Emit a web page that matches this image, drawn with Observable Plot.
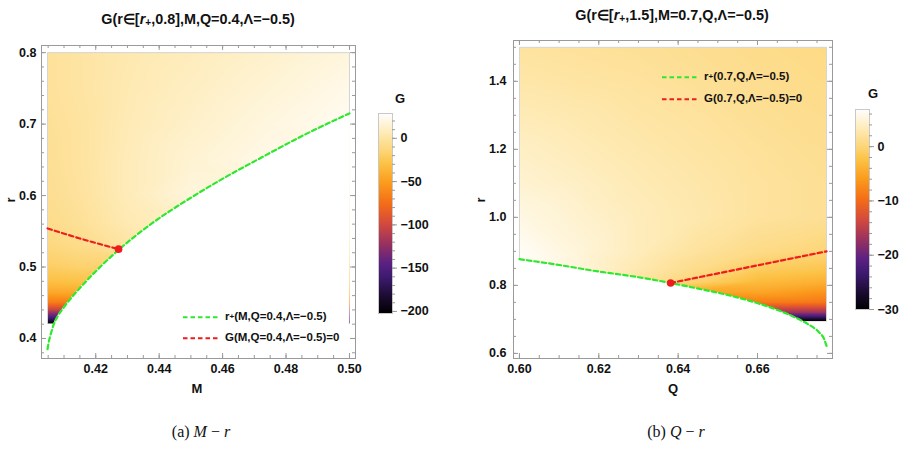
<!DOCTYPE html>
<html><head><meta charset="utf-8">
<script src="https://cdn.jsdelivr.net/npm/d3@7"></script>
<script src="https://cdn.jsdelivr.net/npm/@observablehq/plot@0.6"></script>
<style>
body{margin:0;background:#fff;}
#wrap{position:relative;width:903px;height:449px;overflow:hidden;font-family:"Liberation Sans",Arial,sans-serif;color:#111;}
.abs{position:absolute;white-space:nowrap;line-height:1;}
.c{transform:translate(-50%,-50%);}
.l{transform:translateY(-50%);}
.title{font-weight:bold;font-size:14.4px;}
.lab{font-weight:bold;font-size:13px;}
.leg{font-weight:bold;font-size:11.5px;display:flex;align-items:center;}
.leg svg{margin-right:6px;}
.cap{font-family:"Liberation Serif","DejaVu Serif",serif;font-size:16px;}
.cap i{font-style:italic;}
sub{font-size:70%;vertical-align:-0.25em;line-height:0;}
svg.plot{position:absolute;overflow:visible;}
</style></head>
<body><div id="wrap"></div>
<script>
// ---------- Panel (a): M - r ----------
const rPlusA_M = [0.4048, 0.4051, 0.4055, 0.4060, 0.4067, 0.4080, 0.4100, 0.4153, 0.4216, 0.4272, 0.4377, 0.4500, 0.4602, 0.4730, 0.4849, 0.5000];
const rPlusA_r = [0.385, 0.393, 0.401, 0.409, 0.419, 0.431, 0.444, 0.472, 0.501, 0.524, 0.561, 0.597, 0.624, 0.655, 0.683, 0.715];
const gZeroA_M = [0.4048, 0.4150, 0.4272];
const gZeroA_r = [0.554, 0.540, 0.525];
const pointA = {M: 0.4272, r: 0.525};
const gridA_M = [0.4048, 0.415, 0.43, 0.45, 0.475, 0.5];
const gridA_r = [0.421, 0.43, 0.44, 0.45, 0.465, 0.48, 0.5, 0.53, 0.56, 0.6, 0.65, 0.7, 0.75, 0.8];
const gridA_G = [
  [-202, -202, -202, -202, -202, -202],
  [-150, -150, -150, -150, -150, -150],
  [-105, -105, -105, -105, -105, -105],
  [-68, -68, -68, -68, -68, -68],
  [-44, -42, -42, -42, -42, -42],
  [-30, -28, -28, -28, -28, -28],
  [-20, -17, -15, -15, -15, -15],
  [-12, -8, 0, 0, 0, 0],
  [-8, -4, 5, 12, 12, 12],
  [-6, -2, 7, 18, 18, 18],
  [-5, -1, 7, 15, 22, 22],
  [-4, -1, 6, 12, 19, 25],
  [-3, 0, 5, 10, 16, 22],
  [-3, 0, 4, 8, 13, 18]
];
const regionA_M = [0.4048, 0.5];
const regionA_r = [0.421, 0.8];
const colorRangeA = [-202.4, 28.7];
const xTicksA = [0.42, 0.44, 0.46, 0.48, 0.50];
const yTicksA = [0.4, 0.5, 0.6, 0.7, 0.8];
const cbTicksA = [0, -50, -100, -150, -200];

// ---------- Panel (b): Q - r ----------
const rPlusB_Q = [0.6, 0.61, 0.6187, 0.63, 0.6381, 0.6465, 0.6524, 0.6599, 0.6654, 0.670, 0.6726, 0.6755, 0.6768, 0.6774];
const rPlusB_r = [0.877, 0.860, 0.843, 0.824, 0.807, 0.787, 0.772, 0.748, 0.726, 0.703, 0.687, 0.662, 0.642, 0.622];
const gZeroB_Q = [0.6381, 0.6774];
const gZeroB_r = [0.807, 0.900];
const pointB = {Q: 0.6381, r: 0.807};
const gridB_Q = [0.6, 0.615, 0.63, 0.645, 0.66, 0.6774];
const gridB_r = [0.695, 0.72, 0.75, 0.78, 0.81, 0.85, 0.9, 1.0, 1.1, 1.2, 1.3, 1.4, 1.5];
const gridB_G = [
  [-30, -30, -30, -30, -30, -30],
  [-17, -17, -17, -17, -17, -17],
  [-9, -9, -9, -9, -8.5, -9],
  [-5, -5, -5, -5, -5, -6.5],
  [2, 2, 2, -0.3, -3, -4],
  [6.5, 5, 3, 1, -1, -1.8],
  [6.5, 5, 3.5, 2, 0.8, 0],
  [5.5, 4.5, 3.5, 2.8, 2, 1.5],
  [4.6, 4, 3.2, 2.6, 2, 1.5],
  [4, 3.4, 2.8, 2.3, 1.8, 1.3],
  [3.3, 2.9, 2.4, 2.0, 1.5, 1.1],
  [2.6, 2.3, 2.0, 1.6, 1.2, 0.9],
  [2.1, 1.8, 1.6, 1.3, 1.0, 0.7]
];
const regionB_Q = [0.6, 0.6774];
const regionB_r = [0.695, 1.5];
const colorRangeB = [-30, 6.84];
const xTicksB = [0.60, 0.62, 0.64, 0.66];
const yTicksB = [0.6, 0.8, 1.0, 1.2, 1.4];
const cbTicksB = [0, -10, -20, -30];

// colour map (Mathematica "SunsetColors"-like)
const sunStopsT = [0, 0.08, 0.18, 0.25, 0.35, 0.45, 0.55, 0.65, 0.75, 0.82, 0.90, 1];
const sunStopsC = ["#000000", "#190b2e", "#3d1a6e", "#5a2183", "#99325f", "#d44a3e", "#f46d17", "#fb9a1c", "#fcc245", "#fdd77c", "#feeab4", "#ffffff"];
const sunScale = d3.scaleLinear().domain(sunStopsT).range(sunStopsC).interpolate(d3.interpolateRgb).clamp(true);
const sunset = t => sunScale(t);

const GREEN = "#2ee82e", RED = "#ee1c1c", FRAME = "#9a9a9a";
const FONT = '"Liberation Sans", Arial, sans-serif';
const minus = d => (d < 0 ? "\u2212" + Math.abs(d) : String(d));
const wrap = document.getElementById("wrap");

function place(el, left, top) {
  el.classList.add("plot");
  el.style.left = left + "px"; el.style.top = top + "px";
  wrap.appendChild(el);
}
function html(cls, left, top, inner) {
  const d = document.createElement("div");
  d.className = "abs " + cls;
  d.style.left = left + "px"; d.style.top = top + "px";
  d.innerHTML = inner;
  wrap.appendChild(d);
  return d;
}
function frameTicks(xd, yd, xMaj, xStep, yMaj, yStep, iw, ih) {
  const inD = (d, v) => v >= d[0] - 1e-9 && v <= d[1] + 1e-9;
  const xMin = d3.range(Math.ceil(xd[0] / xStep), Math.floor(xd[1] / xStep) + 1).map(i => +(i * xStep).toFixed(6)).filter(v => inD(xd, v));
  const yMin = d3.range(Math.ceil(yd[0] / yStep), Math.floor(yd[1] / yStep) + 1).map(i => +(i * yStep).toFixed(6)).filter(v => inD(yd, v));
  const M = 5, m = 3;
  const o = {stroke: FRAME, strokeWidth: 1};
  return [
    Plot.ruleX(xMaj, {...o, insetTop: ih - M}),
    Plot.ruleX(xMin, {...o, insetTop: ih - m}),
    Plot.ruleX(xMaj, {...o, insetBottom: ih - M}),
    Plot.ruleX(xMin, {...o, insetBottom: ih - m}),
    Plot.ruleY(yMaj, {...o, insetRight: iw - M}),
    Plot.ruleY(yMin, {...o, insetRight: iw - m}),
    Plot.ruleY(yMaj, {...o, insetLeft: iw - M}),
    Plot.ruleY(yMin, {...o, insetLeft: iw - m})
  ];
}

function panel(cfg) {
  const iw = cfg.width - cfg.ml - cfg.mr, ih = cfg.height - cfg.mt - cfg.mb;
  const grid = cfg.gy.flatMap((r, i) => cfg.gx.map((x, j) => ({x, r, G: cfg.gG[i][j]})));
  const curve = cfg.cx.map((x, i) => ({x, r: cfg.cr[i]}));
  const zero = cfg.zx.map((x, i) => ({x, r: cfg.zr[i]}));
  const outline = [
    {x: cfg.rx[0], r: Math.max(cfg.ry[0], cfg.cr[0])}, {x: cfg.rx[0], r: cfg.ry[1]},
    {x: cfg.rx[1], r: cfg.ry[1]}, {x: cfg.rx[1], r: Math.max(cfg.ry[0], cfg.cr[cfg.cr.length - 1])}
  ];
  return Plot.plot({
    width: cfg.width, height: cfg.height,
    marginLeft: cfg.ml, marginRight: cfg.mr, marginTop: cfg.mt, marginBottom: cfg.mb,
    x: {domain: cfg.xd, label: null},
    y: {domain: cfg.yd, label: null},
    color: {type: "linear", domain: cfg.cd, interpolate: sunset},
    style: {fontFamily: FONT, fontSize: "12.5px", fontWeight: "bold", color: "#111", background: "transparent", overflow: "visible"},
    marks: [
      Plot.raster(grid, {x: "x", y: "r", fill: "G", interpolate: "barycentric",
        x1: cfg.rx[0], x2: cfg.rx[1], y1: cfg.ry[0], y2: cfg.ry[1]}),
      Plot.areaY(curve, {x: "x", y1: cfg.yd[0], y2: "r", fill: "white", curve: "monotone-x"}),
      Plot.line(outline, {x: "x", y: "r", stroke: "#d4d4d4", strokeWidth: 1}),
      Plot.line(curve, {x: "x", y: "r", stroke: GREEN, strokeWidth: 2.2, strokeDasharray: "4.5,3", curve: "monotone-x"}),
      Plot.line(zero, {x: "x", y: "r", stroke: RED, strokeWidth: 2.2, strokeDasharray: "4.5,3", curve: "monotone-x"}),
      Plot.dot([cfg.pt], {x: cfg.ptx, y: "r", r: 3.8, fill: RED, stroke: null}),
      Plot.frame({stroke: FRAME, strokeWidth: 1}),
      ...frameTicks(cfg.xd, cfg.yd, cfg.xt, cfg.xs, cfg.yt, cfg.ys, iw, ih),
      Plot.axisX(cfg.xt, {tickSize: 0, tickPadding: 6, label: null, tickFormat: d => d.toFixed(2)}),
      Plot.axisY(cfg.yt, {tickSize: 0, tickPadding: cfg.ytp, label: null, tickFormat: d => d.toFixed(1)})
    ]
  });
}

function colorbar(cd, ticks, step) {
  const w = 70, h = 230, ml = 8, bw = 14, mt = 10, mb = 20;
  const minor = d3.range(Math.ceil(cd[0] / step), Math.floor(cd[1] / step) + 1).map(i => i * step);
  return Plot.plot({
    width: w, height: h, marginLeft: ml, marginRight: w - ml - bw, marginTop: mt, marginBottom: mb,
    x: {domain: [0, 1], axis: null},
    y: {domain: cd, axis: null},
    color: {type: "linear", domain: cd, interpolate: sunset},
    style: {fontFamily: FONT, fontSize: "12.5px", fontWeight: "bold", color: "#111", background: "transparent", overflow: "visible"},
    marks: [
      Plot.raster({x1: 0, x2: 1, y1: cd[0], y2: cd[1], fill: (x, y) => y}),
      Plot.frame({stroke: "#c8c8c8"}),
      Plot.ruleY(minor, {stroke: FRAME, insetLeft: bw, insetRight: -3}),
      Plot.ruleY(ticks, {stroke: FRAME, insetLeft: bw, insetRight: -5}),
      Plot.axisY(ticks, {anchor: "right", tickSize: 0, tickPadding: 8, label: null, tickFormat: minus})
    ]
  });
}

// Panel a plot
place(panel({
  width: 450, height: 400, ml: 41, mr: 95, mt: 45, mb: 42,
  xd: [0.4029, 0.5019], yd: [0.372, 0.81], cd: colorRangeA,
  gx: gridA_M, gy: gridA_r, gG: gridA_G,
  cx: rPlusA_M, cr: rPlusA_r, zx: gZeroA_M, zr: gZeroA_r,
  rx: regionA_M, ry: regionA_r,
  pt: pointA, ptx: "M",
  xt: xTicksA, xs: 0.005, yt: yTicksA, ys: 0.02, ytp: 5
}), 0, 0);

// Panel b plot
place(panel({
  width: 453, height: 400, ml: 63, mr: 71, mt: 40, mb: 42,
  xd: [0.5985, 0.6789], yd: [0.585, 1.52], cd: colorRangeB,
  gx: gridB_Q, gy: gridB_r, gG: gridB_G,
  cx: rPlusB_Q, cr: rPlusB_r, zx: gZeroB_Q, zr: gZeroB_r,
  rx: regionB_Q, ry: regionB_r,
  pt: pointB, ptx: "Q",
  xt: xTicksB, xs: 0.005, yt: yTicksB, ys: 0.05, ytp: 7
}), 450, 0);

// colour bars
place(colorbar(colorRangeA, cbTicksA, 10), 370, 103);
place(colorbar(colorRangeB, cbTicksB, 2), 847, 99);

// texts
html("c title", 198, 19, "G(r\u2208[<i>r</i><sub>+</sub>,0.8],M,Q=0.4,\u039B=\u22120.5)");
html("c title", 672, 15, "G(r\u2208[<i>r</i><sub>+</sub>,1.5],M=0.7,Q,\u039B=\u22120.5)");
const ra = html("c lab", 10, 200, "r"); ra.style.transform = "translate(-50%,-50%) rotate(-90deg)";
const rb = html("c lab", 480, 200, "r"); rb.style.transform = "translate(-50%,-50%) rotate(-90deg)";
html("c lab", 197, 388, "M");
html("c lab", 673, 388, "Q");
html("c lab", 400, 98, "G");
html("c lab", 873, 93, "G");

const dash = c => `<svg width="36" height="4"><line x1="0" y1="2" x2="36" y2="2" stroke="${c}" stroke-width="2.2" stroke-dasharray="4.5,3"/></svg>`;
html("l leg", 183, 317, dash(GREEN) + "r<sub>+</sub>(M,Q=0.4,\u039B=\u22120.5)");
html("l leg", 183, 338, dash(RED) + "G(M,Q=0.4,\u039B=\u22120.5)=0");
html("l leg", 662, 77, dash(GREEN) + "r<sub>+</sub>(0.7,Q,\u039B=\u22120.5)");
html("l leg", 662, 99, dash(RED) + "G(0.7,Q,\u039B=\u22120.5)=0");

html("c cap", 201, 432, "(a) <i>M</i> \u2212 <i>r</i>");
html("c cap", 676, 432, "(b) <i>Q</i> \u2212 <i>r</i>");
</script></body></html>
